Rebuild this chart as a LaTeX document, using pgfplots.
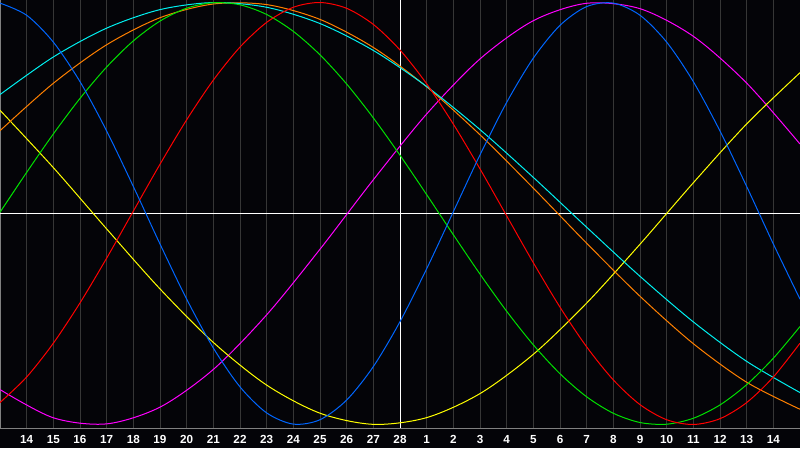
\documentclass[border=0pt]{standalone}
\usepackage{fontspec}
\setmainfont{Liberation Sans}
\usepackage{pgfplots}
\pgfplotsset{compat=1.18}
\definecolor{bg}{RGB}{4,4,8}
\definecolor{gridgray}{RGB}{54,54,54}
\definecolor{bordergray}{RGB}{128,128,128}
\definecolor{cphys}{RGB}{0,102,255}
\definecolor{cemo}{RGB}{255,0,0}
\definecolor{cint}{RGB}{0,224,0}
\definecolor{cintu}{RGB}{255,0,255}
\definecolor{caes}{RGB}{255,255,0}
\definecolor{cspi}{RGB}{0,240,240}
\definecolor{cawa}{RGB}{255,128,0}
\begin{document}
\begin{tikzpicture}[x=1pt,y=1pt]
\useasboundingbox (0,-20) rectangle (800,428);
\fill[bg] (0,-20) rectangle (800,428);
\begin{axis}[
  at={(0,0)}, anchor=south west,
  scale only axis, width=800pt, height=428pt,
  xmin=0, xmax=30, ymin=-1.0166, ymax=1.0118,
  axis line style={draw=bordergray, line width=1pt},
  xtick={1,2,3,4,5,6,7,8,9,10,11,12,13,14,16,17,18,19,20,21,22,23,24,25,26,27,28,29},
  xticklabels={14,15,16,17,18,19,20,21,22,23,24,25,26,27,1,2,3,4,5,6,7,8,9,10,11,12,13,14},
  xmajorgrids,
  grid style={draw=gridgray, line width=1pt},
  major tick length=0pt,
  ytick=\empty,
  extra x ticks={15}, extra x tick labels={28},
  extra x tick style={grid style={draw=white, line width=1pt}},
  extra y ticks={0}, extra y tick labels={},
  extra y tick style={ymajorgrids=true, grid style={draw=white, line width=1pt}},
  xticklabel style={anchor=base, yshift=-15.5pt, inner sep=0pt, font=\fontsize{11.7}{14}\selectfont\bfseries, text=white},
  every axis plot/.append style={line width=1pt, smooth},
]
\addplot[cintu] coordinates {(0,-0.8344)(2,-0.9682)(4,-0.9970)(6,-0.9177)(8,-0.7390)(10,-0.4802)(12,-0.1693)(14,0.1599)(16,0.4716)(18,0.7325)(20,0.9138)(22,0.9962)(24,0.9706)(26,0.8397)(28,0.6180)(30,0.3292)};
\addplot[caes] coordinates {(0,0.4894)(2,0.2175)(4,-0.0731)(6,-0.3573)(8,-0.6110)(10,-0.8133)(12,-0.9464)(14,-0.9993)(16,-0.9674)(18,-0.8535)(20,-0.6673)(22,-0.4245)(24,-0.1456)(26,0.1456)(28,0.4245)(30,0.6673)};
\addplot[cawa] coordinates {(0,0.3923)(2,0.6171)(4,0.7997)(6,0.9278)(8,0.9928)(10,0.9900)(12,0.9198)(14,0.7869)(16,0.6004)(18,0.3730)(20,0.1201)(22,-0.1409)(24,-0.3923)(26,-0.6170)(28,-0.7997)(30,-0.9278)};
\addplot[cspi] coordinates {(0,0.5635)(2,0.7418)(4,0.8785)(6,0.9662)(8,0.9997)(10,0.9773)(12,0.9002)(14,0.7727)(16,0.6019)(18,0.3976)(20,0.1710)(22,-0.0652)(24,-0.2977)(26,-0.5137)(28,-0.7008)(30,-0.8487)};
\addplot[cint] coordinates {(0,0.0058)(1,0.1949)(2,0.3770)(3,0.5455)(4,0.6943)(5,0.8180)(6,0.9119)(7,0.9731)(8,0.9991)(9,0.9890)(10,0.9431)(11,0.8631)(12,0.7519)(13,0.6136)(14,0.4531)(15,0.2761)(16,0.0893)(17,-0.1007)(18,-0.2872)(19,-0.4633)(20,-0.6226)(21,-0.7594)(22,-0.8688)(23,-0.9468)(24,-0.9906)(25,-0.9986)(26,-0.9704)(27,-0.9072)(28,-0.8112)(29,-0.6859)(30,-0.5358)};
\addplot[cemo] coordinates {(0,-0.8960)(1,-0.7748)(2,-0.6147)(3,-0.4237)(4,-0.2115)(5,0.0112)(6,0.2334)(7,0.4440)(8,0.6321)(9,0.7887)(10,0.9058)(11,0.9774)(12,0.9999)(13,0.9724)(14,0.8960)(15,0.7748)(16,0.6147)(17,0.4237)(18,0.2115)(19,-0.0112)(20,-0.2334)(21,-0.4440)(22,-0.6321)(23,-0.7887)(24,-0.9058)(25,-0.9774)(26,-0.9999)(27,-0.9724)(28,-0.8960)(29,-0.7748)(30,-0.6147)};
\addplot[cphys] coordinates {(0,0.9971)(1,0.9395)(2,0.8122)(3,0.6248)(4,0.3909)(5,0.1281)(6,-0.1444)(7,-0.4059)(8,-0.6374)(9,-0.8216)(10,-0.9450)(11,-0.9982)(12,-0.9774)(13,-0.8841)(14,-0.7254)(15,-0.5126)(16,-0.2618)(17,0.0082)(18,0.2777)(19,0.5266)(20,0.7363)(21,0.8917)(22,0.9807)(23,0.9971)(24,0.9395)(25,0.8122)(26,0.6248)(27,0.3909)(28,0.1281)(29,-0.1444)(30,-0.4059)};
\end{axis}
\end{tikzpicture}
\end{document}
